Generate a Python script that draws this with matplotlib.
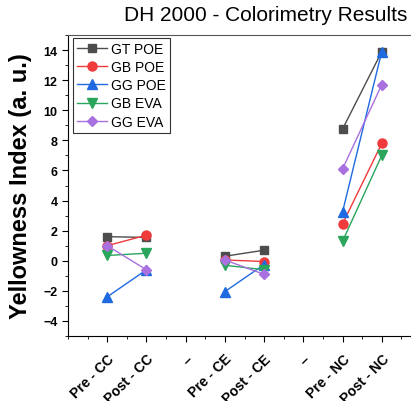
import matplotlib.pyplot as plt
import numpy as np
from matplotlib.ticker import MultipleLocator

plt.rcParams['font.family'] = ['Liberation Sans', 'DejaVu Sans']

labels = ['Pre - CC', 'Post - CC', '--', 'Pre - CE', 'Post - CE', '--', 'Pre - NC', 'Post - NC']
series = ['GT POE', 'GB POE', 'GG POE', 'GB EVA', 'GG EVA']
gt_poe = [1.6, 1.55, np.nan, 0.3, 0.7, np.nan, 8.75, 13.9]
gb_poe = [1.0, 1.7, np.nan, 0.05, -0.05, np.nan, 2.45, 7.8]
gg_poe = [-2.4, -0.6, np.nan, -2.05, -0.25, np.nan, 3.25, 13.9]
gb_eva = [0.35, 0.5, np.nan, -0.3, -0.6, np.nan, 1.3, 7.0]
gg_eva = [1.0, -0.6, np.nan, 0.05, -0.9, np.nan, 6.1, 11.7]

colors = ['#4d4d4d', '#f03a3c', '#1f6ae0', '#2aa55c', '#a970e0']
markers = ['s', 'o', '^', 'v', 'D']
sizes = [5.5, 6.5, 6.5, 6.5, 5.5]

fig = plt.figure(figsize=(4.11, 4.02), dpi=100)
ax = fig.add_axes([68/411, 65/402, 353/411, 301/402])

x = np.arange(1, 9)
for name, vals, c, m, s in zip(series, [gt_poe, gb_poe, gg_poe, gb_eva, gg_eva], colors, markers, sizes):
    ax.plot(x, vals, color=c, marker=m, markersize=s, linewidth=1, label=name)

ax.set_xlim(0, 9)
ax.set_ylim(-5, 15)
ax.set_xticks(x)
ax.set_xticklabels(labels, rotation=45, ha='right', rotation_mode='anchor', fontweight='bold', fontsize=10)
ax.xaxis.set_minor_locator(MultipleLocator(0.5))
ax.yaxis.set_minor_locator(MultipleLocator(1))
ax.set_yticks(np.arange(-4, 15, 2))
for lab in ax.get_yticklabels():
    lab.set_fontweight('bold')
ax.tick_params(axis='both', which='major', direction='out', length=4, labelsize=9)
ax.tick_params(axis='x', which='major', labelsize=10, pad=7)
ax.tick_params(axis='both', which='minor', direction='out', length=2)
ax.spines['top'].set_color('#555555')
ax.set_ylabel('Yellowness Index (a. u.)', fontsize=17, fontweight='bold', labelpad=8)

fig.text(0.99, 0.985, 'DH 2000 - Colorimetry Results', ha='right', va='top', fontsize=15)

leg = ax.legend(loc='upper left', bbox_to_anchor=(0.005, 1.0), fontsize=10, frameon=True,
                fancybox=False, edgecolor='black', handlelength=2.2, borderpad=0.3,
                labelspacing=0.3, handletextpad=0.3, borderaxespad=0.2)
leg.get_frame().set_linewidth(0.8)

fig.savefig('out.png', dpi=100)
